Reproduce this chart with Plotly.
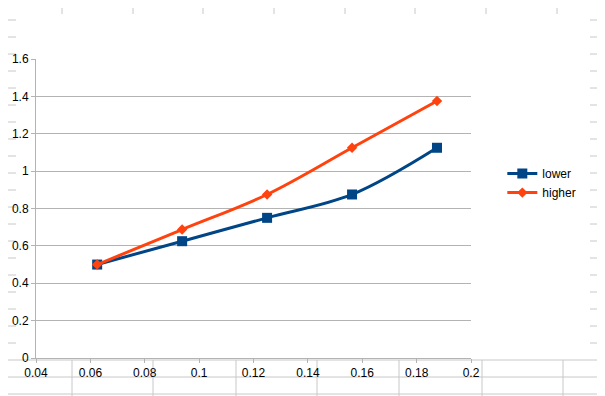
import plotly.graph_objects as go

x_vals = [0.0625, 0.09375, 0.125, 0.15625, 0.1875]
lower = [0.5, 0.625, 0.75, 0.875, 1.125]
higher = [0.5, 0.6875, 0.875, 1.125, 1.375]
y_ticks = [0, 0.2, 0.4, 0.6, 0.8, 1, 1.2, 1.4, 1.6]
y_tick_labels = ["0", "0.2", "0.4", "0.6", "0.8", "1", "1.2", "1.4", "1.6"]
x_ticks = [0.04, 0.06, 0.08, 0.1, 0.12, 0.14, 0.16, 0.18, 0.2]
x_tick_labels = ["0.04", "0.06", "0.08", "0.1", "0.12", "0.14", "0.16", "0.18", "0.2"]

OFF = 8  # page body margin
W, H = 605 - OFF, 396 - OFF
L, T = 36 - OFF, 59 - OFF
PW, PH = 435, 299
R = W - L - PW
B = H - T - PH

def px(v):
    return (v - OFF - L) / PW

def py(v):
    return (T + PH - (v - OFF)) / PH

GRID = "#c8c8c8"
shapes = []
def line(x0, y0, x1, y1):
    shapes.append(dict(type="line", xref="paper", yref="paper",
                       x0=px(x0), y0=py(y0), x1=px(x1), y1=py(y1),
                       line=dict(color=GRID, width=1), layer="below"))

# spreadsheet background grid (outside chart object)
for cx in [62, 133, 203, 274, 345, 415, 486, 557]:
    line(cx, 8, cx, 14)
for ry in range(20, 356, 17):
    line(8, ry, 16, ry)
    line(590, ry, 605, ry)
for ry in [360, 377, 394]:
    line(8, ry, 605, ry)
for cx in [72, 153, 236, 317, 399, 482, 563]:
    line(cx, 360, cx, 396)

fig = go.Figure()
fig.add_trace(go.Scatter(
    x=x_vals, y=lower, name="lower", mode="lines+markers",
    line=dict(color="#004586", width=3, shape="spline", smoothing=1.0),
    marker=dict(symbol="square", size=10, color="#004586"),
))
fig.add_trace(go.Scatter(
    x=x_vals, y=higher, name="higher", mode="lines+markers",
    line=dict(color="#ff420e", width=3, shape="spline", smoothing=1.0),
    marker=dict(symbol="diamond", size=8, color="#ff420e"),
))

fig.update_layout(
    width=W, height=H,
    margin=dict(l=L, r=R, t=T, b=B, pad=0, autoexpand=False),
    paper_bgcolor="white", plot_bgcolor="white",
    font=dict(family="Liberation Sans, Arial, sans-serif", size=12, color="#000000"),
    showlegend=True,
    legend=dict(x=1.072, y=0.585, xanchor="left", yanchor="middle",
                font=dict(size=12), itemwidth=30, tracegroupgap=0,
                bgcolor="rgba(0,0,0,0)"),
    shapes=shapes,
    xaxis=dict(range=[0.04, 0.2], tickvals=x_ticks, ticktext=x_tick_labels,
               showgrid=False, zeroline=False, showline=True, automargin=False,
               linecolor="#b3b3b3", linewidth=1, ticks="outside", ticklen=4,
               tickcolor="#b3b3b3"),
    yaxis=dict(range=[0, 1.6], tickvals=y_ticks, ticktext=y_tick_labels,
               showgrid=True, gridcolor="#b3b3b3", gridwidth=1, automargin=False,
               zeroline=False, showline=True, linecolor="#b3b3b3", linewidth=1,
               ticks="outside", ticklen=4, tickcolor="#b3b3b3"),
)

fig.write_html("out.html")
